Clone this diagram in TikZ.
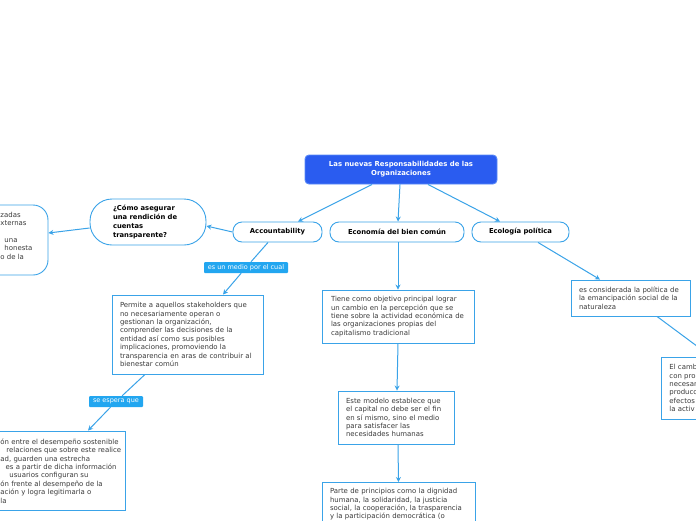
\documentclass[tikz,border=0pt]{standalone}
\usepackage{fontspec}
\setmainfont{DejaVu Sans}
\usetikzlibrary{arrows.meta}
\definecolor{bl}{HTML}{3AA3E8}
\definecolor{labfill}{HTML}{22A6F0}
\definecolor{rootfill}{HTML}{2A5CF0}
\definecolor{rootdraw}{HTML}{5A8AF8}
\definecolor{txt}{HTML}{3A3A3A}
\tikzset{
  base/.style={font=\fontsize{6.95}{8.4}\selectfont, text=txt, line width=0.9pt},
  txtbox/.style={base, draw=bl, fill=white, align=left, inner sep=0pt},
  topic/.style={base, draw=bl, fill=white, rounded corners=9pt, font=\fontsize{6.8}{8.4}\selectfont\bfseries, text=black, inner sep=0pt, minimum height=20pt},
  rootbox/.style={base, draw=rootdraw, fill=rootfill, rounded corners=4pt, text=white, font=\fontsize{6.9}{8.8}\selectfont\bfseries, align=center, inner sep=0pt, minimum width=192pt, minimum height=29pt},
  lab/.style={fill=labfill, text=white, font=\fontsize{6.5}{7}\selectfont, inner sep=0pt, minimum height=11pt, rounded corners=1pt},
  conn/.style={draw=bl, line width=1pt, -{Stealth[length=5pt,width=5pt]}},
  plain/.style={draw=bl, line width=1pt},
  frag/.style={base, align=left, inner sep=0pt, anchor=west}
}
\begin{document}
\begin{tikzpicture}[x=1pt,y=-1pt]
\useasboundingbox (0,0) rectangle (696,520);
\fill[white] (0,0) rectangle (696,520);

\node[rootbox] (root) at (401,169.5) {Las nuevas Responsabilidades de las\\Organizaciones};
\node[topic, minimum width=89pt] (acc) at (277.5,232) {Accountability};
\node[topic, minimum width=134pt] (eco) at (397,232) {Economía del bien común};
\node[topic, minimum width=97pt] (pol) at (520.5,232) {Ecología política};

\node[base, draw=bl, fill=white, rounded corners=22pt, minimum width=116pt, minimum height=46pt, text width=70pt, align=left, inner sep=0pt, font=\fontsize{6.8}{8.7}\selectfont\bfseries, text=black] (como) at (148,222) {¿Cómo asegurar\\una rendición de\\cuentas\\transparente?};

\node[base, draw=bl, fill=white, rounded corners=15pt, minimum width=108pt, minimum height=70pt] (lbox) at (-6,240) {};
\node[frag] (lboxt) at (0,235.5) {zadas\\xternas\\\mbox{}\\\hspace{4pt}una\\\hspace{4pt}honesta\\o de la};

\node[lab, minimum width=84pt] (lab1) at (246,267.5) {es un medio por el cual};
\node[txtbox, minimum width=151pt, minimum height=79pt, text width=135pt] (perm) at (187.5,334.5) {Permite a aquellos stakeholders que\\no necesariamente operan o\\gestionan la organización,\\comprender las decisiones de la\\entidad así como sus posibles\\implicaciones, promoviendo la\\transparencia en aras de contribuir al\\bienestar común};

\node[lab, minimum width=54pt] (lab2) at (116,401.5) {se espera que};
\node[txtbox, minimum width=234pt, minimum height=79pt] (blbox) at (8,470.5) {};
\node[frag] (blboxt) at (0,471) {ón entre el desempeño sostenible\\\hspace{6pt}relaciones que sobre este realice\\ad, guarden una estrecha\\\hspace{3pt} es a partir de dicha información\\\hspace{9pt}usuarios configuran su\\ón frente al desempeño de la\\ación y logra legitimarla o\\la};

\node[txtbox, minimum width=152pt, minimum height=53pt, text width=134pt] (etxt) at (398,316.5) {Tiene como objetivo principal lograr\\un cambio en la percepción que se\\tiene sobre la actividad económica de\\las organizaciones propias del\\capitalismo tradicional};
\node[txtbox, minimum width=116pt, minimum height=53pt, text width=100pt] (este) at (396,417.5) {Este modelo establece que\\el capital no debe ser el fin\\en sí mismo, sino el medio\\para satisfacer las\\necesidades humanas};
\node[txtbox, anchor=north, minimum width=153pt, text width=137pt, inner ysep=6pt] (parte) at (398.5,482) {Parte de principios como la dignidad\\humana, la solidaridad, la justicia\\social, la cooperación, la trasparencia\\y la participación democrática (o\\\mbox{}};

\node[txtbox, minimum width=119pt, minimum height=36pt, text width=103pt] (cons) at (630.5,298) {es considerada la política de\\la emancipación social de la\\naturaleza};
\node[txtbox, minimum width=100pt, minimum height=62pt] (rbox) at (711,388) {};
\node[frag] (rboxt) at (669,388) {El camb\\con pro\\necesar\\producc\\efectos\\la activ};

% connectors
\draw[conn] ([xshift=-29pt]root.south) -- ([xshift=20.5pt]acc.north);
\draw[conn] ([xshift=-1pt]root.south) -- ([xshift=1pt]eco.north);
\draw[conn] ([xshift=27pt]root.south) -- ([xshift=-20.5pt]pol.north);
\draw[conn] (acc.west) -- ([yshift=-4pt]como.east);
\draw[conn] ([yshift=-6pt]como.west) -- ([yshift=7pt]lbox.east);
\draw[plain] ([xshift=-9.5pt]acc.south) -- (lab1);
\draw[conn] (lab1) -- ([xshift=35.5pt]perm.north);
\draw[plain] ([xshift=-42.5pt]perm.south) -- (lab2);
\draw[conn] (lab2) -- ([xshift=80pt]blbox.north);
\draw[conn] ([xshift=1pt]eco.south) -- (etxt.north);
\draw[conn] (etxt.south) -- ([xshift=1pt]este.north);
\draw[conn] ([xshift=2pt]este.south) -- (parte.north);
\draw[conn] ([xshift=17.5pt]pol.south) -- ([xshift=-30.5pt]cons.north);
\draw[conn] ([xshift=26.5pt]cons.south) -- (rbox.north);
\end{tikzpicture}
\end{document}
